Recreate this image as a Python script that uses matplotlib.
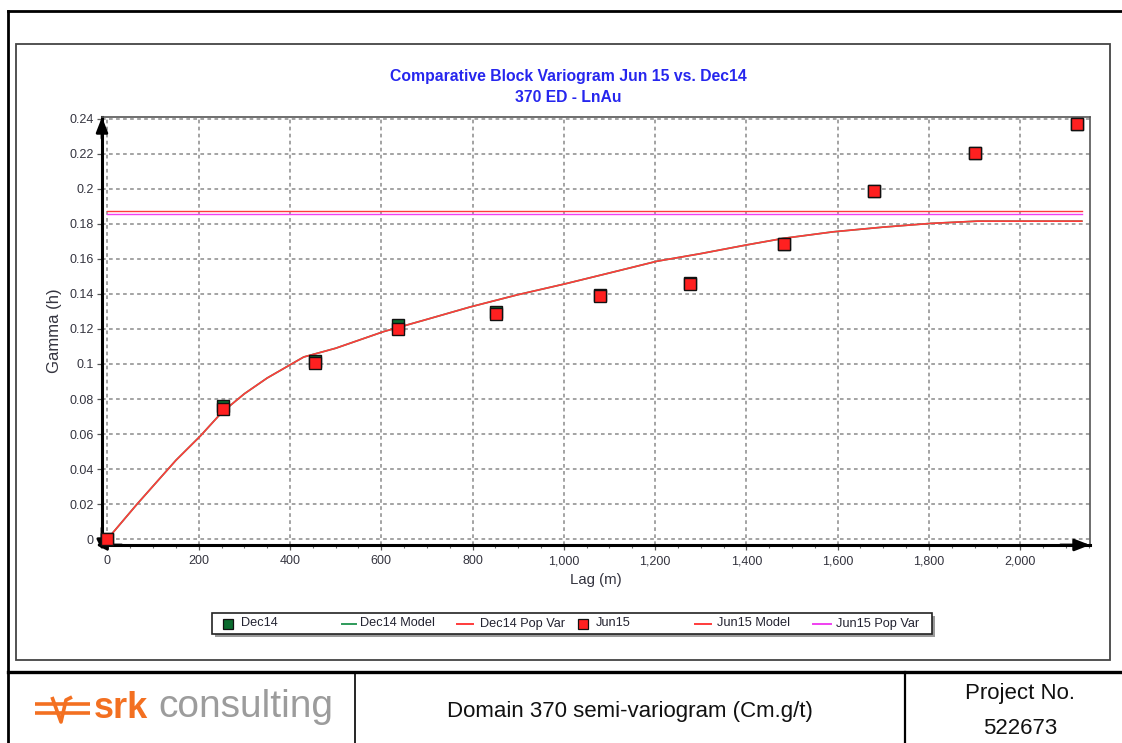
import matplotlib
matplotlib.use("Agg")
import matplotlib.pyplot as plt
from matplotlib.lines import Line2D
from matplotlib.patches import Rectangle
from matplotlib.ticker import FuncFormatter, MultipleLocator

plt.rcParams['font.family'] = ['Liberation Sans', 'DejaVu Sans']

# ---- experimental variogram points ----
lag_pts = [0, 254, 454, 637, 851, 1079, 1276, 1482, 1680, 1900, 2124]
dec14_gamma = [0.0, 0.0758, 0.1015, 0.1222, 0.1298, 0.1396, 0.1462, 0.1686, 0.1990, 0.2207, 0.2370]
jun15_gamma = [0.0, 0.0741, 0.1007, 0.1202, 0.1285, 0.1390, 0.1455, 0.1686, 0.1990, 0.2207, 0.2370]

# ---- fitted model curve (both campaigns share the same model) ----
model_lag = [0, 65, 150, 204, 250, 300, 350, 400, 430, 500, 605, 700, 795, 898,
             1003, 1100, 1204, 1299, 1400, 1482, 1590, 1700, 1803, 1906, 2135]
model_gamma = [0.0, 0.020, 0.045, 0.059, 0.0722, 0.083, 0.092, 0.0995, 0.104, 0.109,
               0.1185, 0.1255, 0.1326, 0.1395, 0.1458, 0.1520, 0.1587, 0.1630, 0.1680,
               0.1718, 0.1755, 0.1782, 0.1803, 0.1816, 0.1816]

# ---- population variances ----
dec14_popvar = 0.1874
jun15_popvar = 0.1855
popvar_lag = [0, 2135]

x_ticks = list(range(0, 2001, 200))
y_ticks = [round(0.02 * i, 2) for i in range(13)]

title_lines = ["Comparative Block Variogram Jun 15 vs. Dec14", "370 ED - LnAu"]
legend_labels = ["Dec14", "Dec14 Model", "Dec14 Pop Var", "Jun15", "Jun15 Model", "Jun15 Pop Var"]

W, H = 1122, 743
fig = plt.figure(figsize=(W / 100, H / 100), dpi=100)


def fx(x):
    return x / W


def fy(y):
    return 1 - y / H


RED = '#ff2020'
GREEN = '#0b6b2e'
MAGENTA = '#f040f0'
LINE_RED = '#ff3b3b'
TXT = '#34343f'

# ---- axes ----
ax = fig.add_axes([fx(102), fy(545), fx(1090) - fx(102), fy(117) - fy(545)])
ax.set_xlim(-12, 2153)
ax.set_ylim(-0.0034, 0.2411)

ax.plot(popvar_lag, [dec14_popvar] * 2, color=LINE_RED, lw=1.0, zorder=3)
ax.plot(popvar_lag, [jun15_popvar] * 2, color=MAGENTA, lw=1.0, zorder=3)
ax.plot(model_lag, model_gamma, color='#2e9a5a', lw=1.2, zorder=3)
ax.plot(model_lag, model_gamma, color=LINE_RED, lw=1.2, zorder=4)
ax.plot(lag_pts, dec14_gamma, ls='none', marker='s', ms=8.5, mfc=GREEN, mec='#111111',
        mew=1.0, zorder=5, clip_on=False)
ax.plot(lag_pts, jun15_gamma, ls='none', marker='s', ms=8.0, mfc=RED, mec='#111111',
        mew=1.0, zorder=6, clip_on=False)

ax.set_xticks(x_ticks)
ax.set_yticks(y_ticks)
ax.xaxis.set_minor_locator(MultipleLocator(50))
ax.xaxis.set_major_formatter(FuncFormatter(lambda v, p: f"{v:,.0f}"))
ax.yaxis.set_major_formatter(FuncFormatter(lambda v, p: f"{v:g}"))
ax.tick_params(axis='both', which='major', direction='out', length=3.5, width=0.9,
               color='#555555', labelsize=9, labelcolor=TXT, pad=2.5)
ax.tick_params(axis='x', which='major', pad=4)
ax.tick_params(axis='x', which='minor', direction='out', length=2.2, width=0.8, color='#666666')
ax.grid(True, which='major', color='#8a8a8a', ls=(0, (2.4, 2.2)), lw=1.1)
ax.set_axisbelow(True)

for side in ('top', 'right'):
    ax.spines[side].set_color('#555555')
    ax.spines[side].set_linewidth(1.2)
for side in ('left', 'bottom'):
    ax.spines[side].set_color('black')
    ax.spines[side].set_linewidth(2.2)

# arrowheads on the axis lines
arrow_kw = dict(arrowstyle='-|>,head_length=0.9,head_width=0.35', color='black', lw=2.0,
                shrinkA=0, shrinkB=0)
ax.annotate('', xy=(0, 1.0), xytext=(0, 0.95), xycoords='axes fraction', arrowprops=arrow_kw,
            annotation_clip=False)
ax.annotate('', xy=(1.0, 0), xytext=(0.97, 0), xycoords='axes fraction', arrowprops=arrow_kw,
            annotation_clip=False)
small_kw = dict(arrowstyle='-|>,head_length=0.6,head_width=0.3', color='black', lw=2.0,
                shrinkA=0, shrinkB=0)
ax.annotate('', xy=(0, -0.012), xytext=(0, 0.04), xycoords='axes fraction', arrowprops=small_kw,
            annotation_clip=False)
ax.annotate('', xy=(-0.006, 0), xytext=(0.02, 0), xycoords='axes fraction', arrowprops=small_kw,
            annotation_clip=False)

ax.set_xlabel("Lag (m)", fontsize=10.8, color=TXT, labelpad=4)
ax.set_ylabel("Gamma (h)", fontsize=12, color=TXT, labelpad=5)

# ---- title ----
fig.text(fx(568), fy(77), title_lines[0], ha='center', va='center', fontsize=11.3,
         fontweight='bold', color='#2626ee')
fig.text(fx(568), fy(97), title_lines[1], ha='center', va='center', fontsize=11.3,
         fontweight='bold', color='#2626ee')

# ---- legend box ----
fig.add_artist(Rectangle((fx(215), fy(637)), fx(932) - fx(212), fy(613) - fy(634),
                         transform=fig.transFigure, facecolor='#9a9a9a', edgecolor='none'))
fig.add_artist(Rectangle((fx(212), fy(634)), fx(932) - fx(212), fy(613) - fy(634),
                         transform=fig.transFigure, facecolor='white', edgecolor='#222222',
                         lw=1.2))
ly = fy(623.5)
entries = [
    ('marker', GREEN, 228, 241),
    ('line', '#2e9a5a', (342, 356), 360),
    ('line', LINE_RED, (457, 473), 480),
    ('marker', RED, 583, 596),
    ('line', LINE_RED, (695, 711), 717),
    ('line', MAGENTA, (813, 831), 836),
]
for (kind, col, pos, tx), lab in zip(entries, legend_labels):
    if kind == 'marker':
        fig.add_artist(Line2D([fx(pos)], [ly], marker='s', ms=6.5, mfc=col, mec='#111111',
                              mew=0.9, ls='none', transform=fig.transFigure))
    else:
        fig.add_artist(Line2D([fx(pos[0]), fx(pos[1])], [ly, ly], color=col, lw=1.4,
                              transform=fig.transFigure))
    fig.text(fx(tx), ly, lab, ha='left', va='center', fontsize=9.2, color='#222230')

# ---- chart panel and page frame ----
fig.add_artist(Rectangle((fx(16), fy(660)), fx(1110) - fx(16), fy(44) - fy(660),
                         transform=fig.transFigure, facecolor='none', edgecolor='#444444',
                         lw=1.3))
frame_kw = dict(color='black', transform=fig.transFigure)
fig.add_artist(Line2D([fx(8), fx(1122)], [fy(11), fy(11)], lw=2.0, **frame_kw))
fig.add_artist(Line2D([fx(8), fx(8)], [fy(11), fy(743)], lw=2.0, **frame_kw))
fig.add_artist(Line2D([fx(8), fx(1122)], [fy(672), fy(672)], lw=2.4, **frame_kw))
fig.add_artist(Line2D([fx(355), fx(355)], [fy(672), fy(743)], lw=1.2, **frame_kw))
fig.add_artist(Line2D([fx(905), fx(905)], [fy(672), fy(743)], lw=1.6, **frame_kw))

# ---- footer ----
ORANGE = '#f37021'
logo_kw = dict(color=ORANGE, transform=fig.transFigure, solid_capstyle='butt')
fig.add_artist(Line2D([fx(35), fx(90)], [fy(704), fy(704)], lw=2.6, **logo_kw))
fig.add_artist(Line2D([fx(35), fx(90)], [fy(713), fy(713)], lw=2.6, **logo_kw))
fig.add_artist(Line2D([fx(52), fx(61), fx(66), fx(72)], [fy(697), fy(722), fy(700), fy(697)],
                      lw=2.6, **logo_kw))
fig.text(fx(94), fy(709), "srk", ha='left', va='center', fontsize=26, fontweight='bold',
         color=ORANGE)
fig.text(fx(158), fy(707), "consulting", ha='left', va='center', fontsize=28,
         color='#9c9c9c')
fig.text(fx(630), fy(712), "Domain 370 semi-variogram (Cm.g/t)", ha='center', va='center',
         fontsize=16, color='#111111')
fig.text(fx(1020), fy(694), "Project No.", ha='center', va='center', fontsize=16,
         color='#111111')
fig.text(fx(1020), fy(728), "522673", ha='center', va='center', fontsize=16,
         color='#111111')

fig.savefig("out.png", dpi=100, facecolor='white')
